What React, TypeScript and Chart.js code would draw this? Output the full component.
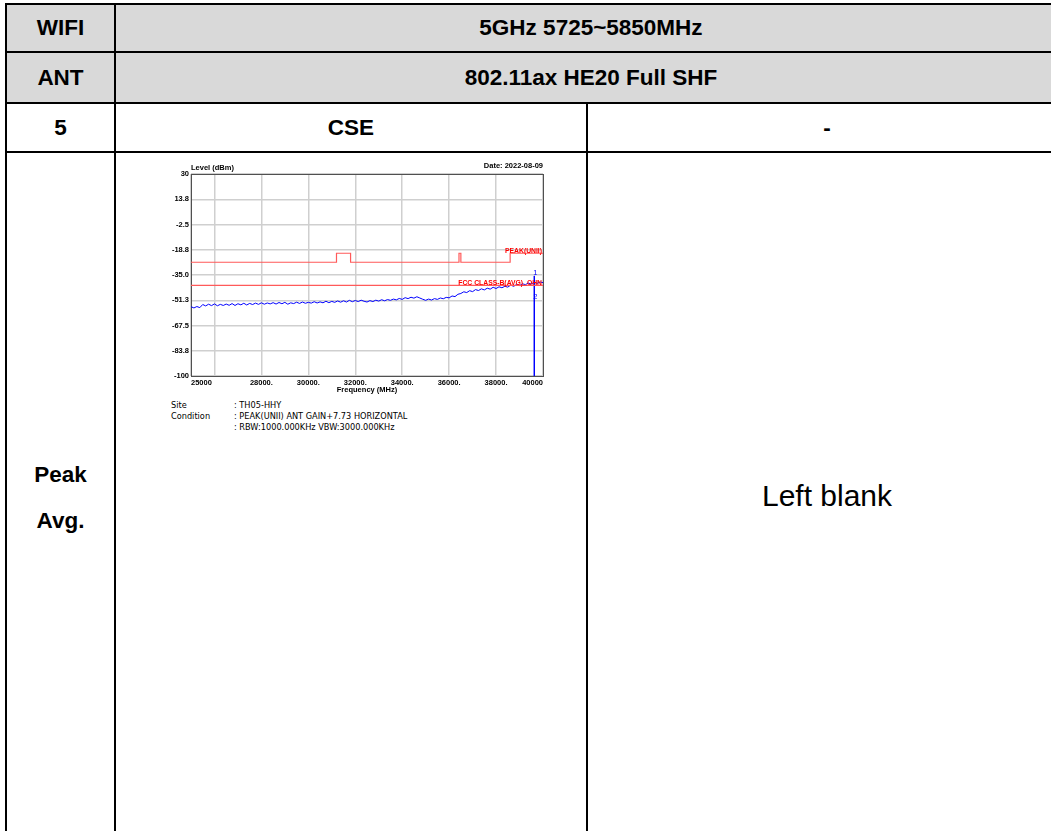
import React, { useEffect, useRef } from "react";
import { Chart, registerables } from "chart.js";
Chart.register(...registerables);

// ---------- table text ----------
const headerLabels = ["WIFI", "ANT", "5"];
const headerValues = ["5GHz 5725~5850MHz", "802.11ax HE20 Full SHF"];
const row3Cells = ["CSE", "-"];
const row4Labels = ["Peak", "Avg."];
const blankText = "Left blank";
const infoKeys = ["Site", "Condition", ""];
const infoValues = [": TH05-HHY", ": PEAK(UNII) ANT GAIN+7.73 HORIZONTAL", ": RBW:1000.000KHz VBW:3000.000KHz"];

// ---------- chart data ----------
const freqStartMHz = 25000;
const freqStepMHz = 125;
const traceLevels = [
  -55.4, -56.2, -55.3, -56.0,
  -54.0, -54.9, -53.8, -54.7, -53.6, -54.8, -53.9, -54.6,
  -53.7, -54.5, -53.4, -54.6, -53.5, -54.2, -53.2, -54.3,
  -53.3, -54.0, -53.1, -53.9, -52.9, -53.8, -53.0, -53.6,
  -52.8, -53.7, -52.7, -53.5, -52.6, -53.8, -52.9, -53.4,
  -52.5, -53.3, -52.4, -53.2, -52.6, -53.1, -52.2, -53.0,
  -52.3, -52.9, -51.9, -52.8, -52.0, -52.6, -51.7, -52.5,
  -51.6, -52.4, -51.3, -52.2, -51.4, -52.1, -51.2, -51.9,
  -52.4, -51.5, -52.1, -51.2, -51.8, -50.9, -51.6, -50.8,
  -51.3, -50.5, -51.0, -50.1, -50.7, -49.6, -50.2, -49.3,
  -49.9, -49.0, -49.8, -50.6, -51.3, -50.5, -51.1, -50.2,
  -50.7, -49.8, -50.3, -49.4, -49.7, -48.5, -48.9, -47.4,
  -46.9, -45.8, -46.3, -45.1, -45.7, -44.4, -45.0, -43.9,
  -44.6, -43.5, -44.1, -42.9, -43.7, -42.6, -43.2, -42.3,
  -42.8, -41.5, -42.3, -41.1, -41.8, -40.7, -41.2, -40.2,
  -40.8, -39.7, -40.4, -39.5, -39.9,
];
const peakLimitFreqs = [25000, 31200, 31200, 31800, 31800, 36420, 36420, 36500, 36500, 38600, 38600, 40000];
const peakLimitLevels = [-26.8, -26.8, -21, -21, -26.8, -26.8, -21, -21, -26.8, -26.8, -21, -21];
const avgLimitFreqs = [25000, 40000];
const avgLimitLevels = [-41.7, -41.7];
const markerFreqs = [39630, 39630];
const markerLineLevels = [-35.6, -100];
const markerTexts = ["1", "2"];
const markerTextLevels = [-33.7, -49];
const limitTexts = ["PEAK(UNII)", "FCC CLASS-B(AVG)_OHN"];
const limitTextLevels = [-19.5, -40.3];

const xTickValues = [25000, 26000, 28000, 30000, 32000, 34000, 36000, 38000, 40000];
const xTickLabels = ["25000", "", "28000.", "30000.", "32000.", "34000.", "36000.", "38000.", "40000"];
const yTickValues = [30, 13.75, -2.5, -18.75, -35, -51.25, -67.5, -83.75, -100];
const yTickLabels = ["30", "13.8", "-2.5", "-18.8", "-35.0", "-51.3", "-67.5", "-83.8", "-100"];

const FONT = "'Liberation Sans', Arial, sans-serif";

const annotPlugin = {
  id: "annot",
  beforeDatasetsDraw(chart: any) {
    const { ctx, chartArea: a } = chart;
    ctx.save();
    ctx.strokeStyle = "#505050";
    ctx.lineWidth = 1;
    ctx.strokeRect(Math.round(a.left) + 0.5, Math.round(a.top) + 0.5, Math.round(a.right - a.left), Math.round(a.bottom - a.top));
    ctx.restore();
  },
  afterDatasetsDraw(chart: any) {
    const { ctx, chartArea: a, scales } = chart;
    const xs = scales.x, ys = scales.y;
    ctx.save();
    ctx.font = `bold 7.5px ${FONT}`;
    ctx.fillStyle = "#000";
    ctx.textBaseline = "bottom";
    ctx.textAlign = "left";
    ctx.fillText("Level (dBm)", a.left, a.top - 2);
    ctx.textAlign = "right";
    ctx.fillText("Date: 2022-08-09", a.right, a.top - 4);
    ctx.font = `bold 6.8px ${FONT}`;
    ctx.fillStyle = "#ff0000";
    ctx.textBaseline = "middle";
    limitTexts.forEach((t, i) => ctx.fillText(t, a.right - 1, ys.getPixelForValue(limitTextLevels[i])));
    ctx.font = `7.5px ${FONT}`;
    ctx.fillStyle = "#0000ff";
    ctx.textAlign = "center";
    markerTexts.forEach((t, i) => ctx.fillText(t, xs.getPixelForValue(markerFreqs[0]) + 1, ys.getPixelForValue(markerTextLevels[i])));
    ctx.restore();
  },
};

function SpectrumChart() {
  const ref = useRef<HTMLCanvasElement>(null);
  useEffect(() => {
    if (!ref.current) return;
    const pts = (xs: number[], ys: number[]) => xs.map((x, i) => ({ x, y: ys[i] }));
    const trace = traceLevels.map((y, i) => ({ x: freqStartMHz + i * freqStepMHz, y }));
    const tickFont = { family: FONT, size: 7.5, weight: "bold" };
    const chart = new Chart(ref.current, {
      type: "line",
      data: {
        datasets: [
          { data: pts(peakLimitFreqs, peakLimitLevels), borderColor: "#ff5a5a", borderWidth: 1.2, pointRadius: 0, tension: 0 },
          { data: pts(avgLimitFreqs, avgLimitLevels), borderColor: "#ff5a5a", borderWidth: 1.2, pointRadius: 0, tension: 0 },
          { data: trace, borderColor: "#0000ff", borderWidth: 1, pointRadius: 0, tension: 0 },
          { data: pts(markerFreqs, markerLineLevels), borderColor: "#0000ff", borderWidth: 1, pointRadius: 0, tension: 0 },
        ],
      },
      options: {
        animation: false,
        responsive: false,
        devicePixelRatio: 1,
        parsing: false as any,
        layout: { padding: { top: 14, right: 17, left: 0, bottom: 0 } },
        plugins: { legend: { display: false }, tooltip: { enabled: false } },
        scales: {
          x: {
            type: "linear",
            min: 25000,
            max: 40000,
            afterBuildTicks: (s: any) => { s.ticks = xTickValues.map((v) => ({ value: v })); },
            afterFit: (s: any) => { s.height = 24; },
            ticks: {
              callback: (_v: any, i: number) => xTickLabels[i],
              align: "inner",
              maxRotation: 0,
              autoSkip: false,
              padding: 2,
              color: "#000",
              font: tickFont,
            },
            grid: { color: "#cfcfcf", lineWidth: 1.5, drawTicks: false },
            border: { display: false },
            title: { display: true, text: "Frequency (MHz)", color: "#000", font: tickFont, padding: { top: 0, bottom: 6 } },
          },
          y: {
            type: "linear",
            min: -100,
            max: 30,
            afterBuildTicks: (s: any) => { s.ticks = yTickValues.map((v) => ({ value: v })); },
            afterFit: (s: any) => { s.width = 41; },
            ticks: {
              callback: (_v: any, i: number) => yTickLabels[i],
              autoSkip: false,
              padding: 2,
              color: "#000",
              font: tickFont,
            },
            grid: { color: "#cfcfcf", lineWidth: 1.5, drawTicks: false },
            border: { display: false },
          },
        },
      },
      plugins: [annotPlugin],
    } as any);
    return () => chart.destroy();
  }, []);
  return <canvas ref={ref} width={410} height={240} style={{ position: "absolute", left: 150, top: 160, width: 410, height: 240 }} />;
}

const line = (l: number, t: number, w: number, h: number) => (
  <div style={{ position: "absolute", left: l, top: t, width: w, height: h, background: "#000" }} />
);

const cell = (l: number, t: number, w: number, h: number, content: React.ReactNode, style: React.CSSProperties = {}) => (
  <div style={{ position: "absolute", left: l, top: t, width: w, height: h, display: "flex", flexDirection: "column", alignItems: "center", justifyContent: "center", fontFamily: FONT, fontWeight: "bold", fontSize: 22.5, color: "#000", ...style }}>
    {content}
  </div>
);

export default function App() {
  const R = 1066;
  return (
    <div style={{ position: "absolute", left: 0, top: 0, width: 1051, height: 831, overflow: "hidden", background: "#fff" }}>
      <div style={{ position: "absolute", left: 7, top: 5, width: R - 7, height: 97, background: "#d9d9d9" }} />
      {line(5, 3, R - 5, 2)}
      {line(5, 51, R - 5, 2)}
      {line(5, 102, R - 5, 2)}
      {line(5, 151, R - 5, 2)}
      {line(5, 3, 2, 840)}
      {line(114, 3, 2, 840)}
      {line(586, 102, 2, 740)}
      {cell(7, 5, 107, 46, headerLabels[0])}
      {cell(116, 5, R - 116, 46, headerValues[0])}
      {cell(7, 53, 107, 49, headerLabels[1])}
      {cell(116, 53, R - 116, 49, headerValues[1])}
      {cell(7, 104, 107, 47, headerLabels[2])}
      {cell(116, 104, 470, 47, row3Cells[0])}
      {cell(588, 104, R - 588, 47, row3Cells[1])}
      {cell(7, 155, 107, 686, row4Labels.map((t) => <div key={t} style={{ lineHeight: "46px" }}>{t}</div>))}
      {cell(588, 153, R - 588, 686, blankText, { fontWeight: "normal", fontSize: 30 })}
      <SpectrumChart />
      {infoKeys.map((k, i) => (
        <React.Fragment key={i}>
          <div style={{ position: "absolute", left: 171, top: 400 + i * 11, fontFamily: "'DejaVu Sans', sans-serif", fontSize: 8.2, lineHeight: "10px", color: "#000" }}>{k}</div>
          <div style={{ position: "absolute", left: 234, top: 400 + i * 11, fontFamily: "'DejaVu Sans', sans-serif", fontSize: 8.2, lineHeight: "10px", color: "#000", whiteSpace: "nowrap" }}>{infoValues[i]}</div>
        </React.Fragment>
      ))}
    </div>
  );
}
